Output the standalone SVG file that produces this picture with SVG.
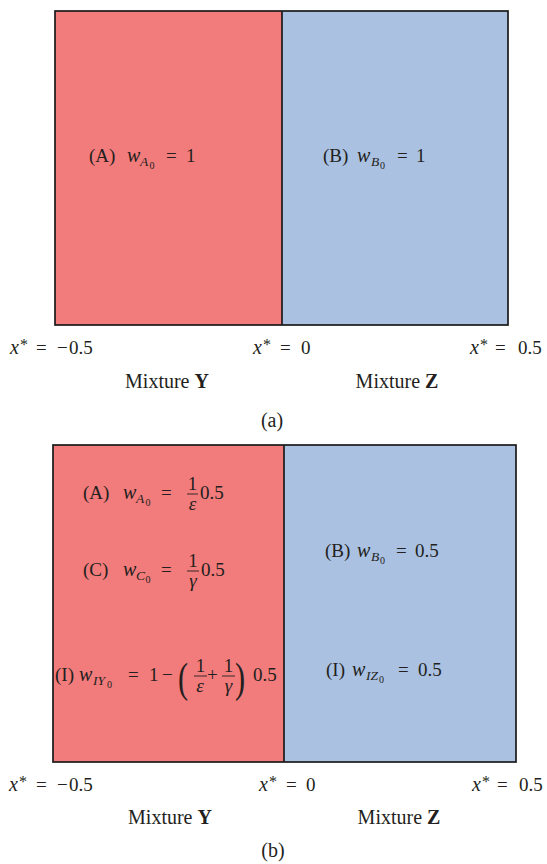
<svg xmlns="http://www.w3.org/2000/svg" width="547" height="864" viewBox="0 0 547 864">
<style>
text{font-family:"Liberation Serif","Times New Roman",serif;font-size:19px;fill:#231f20}
.i{font-style:italic}
.w{font-style:italic;font-size:20px}
.b{font-weight:bold}
.s{font-size:13.5px}
.ss{font-size:10px}
.st{font-size:16px}
.lab{font-size:20px}
.m{text-anchor:middle}
.red{fill:#f27b7b}
.blue{fill:#aac1e2}
.frame{fill:none;stroke:#1a1a1a;stroke-width:1.7}
.div{stroke:#1a1a1a;stroke-width:1.7}
.bar{stroke:#231f20;stroke-width:0.9}
</style>
<g id="panel-a">
  <rect class="red" x="55" y="11" width="227" height="314"/>
  <rect class="blue" x="282" y="11" width="226" height="314"/>
  <rect class="frame" x="55" y="11" width="453" height="314"/>
  <line class="div" x1="282" y1="11" x2="282" y2="325"/>
  <g id="a-A">
    <text x="89" y="162">(A)</text>
    <text class="w" x="127" y="162">w</text>
    <text class="i s" x="140" y="166">A</text>
    <text class="ss" x="149.5" y="169">0</text>
    <text x="166" y="162">=</text>
    <text x="186" y="162">1</text>
  </g>
  <g id="a-B">
    <text x="323" y="162">(B)</text>
    <text class="w" x="357" y="162">w</text>
    <text class="i s" x="371" y="166">B</text>
    <text class="ss" x="380" y="169">0</text>
    <text x="397" y="162">=</text>
    <text x="416" y="162">1</text>
  </g>
  <g id="a-labels">
    <text class="i lab" x="10" y="354">x</text><text class="st" x="20" y="350">*</text>
    <text x="36" y="354">=</text><text x="57" y="354">−</text><text x="69" y="354">0.5</text>
    <text class="i lab" x="253" y="354">x</text><text class="st" x="263" y="350">*</text>
    <text x="280" y="354">=</text><text x="301" y="354">0</text>
    <text class="i lab" x="470" y="354">x</text><text class="st" x="480" y="350">*</text>
    <text x="495" y="354">=</text><text x="518" y="354">0.5</text>
    <text class="m lab" x="167" y="388">Mixture <tspan class="b">Y</tspan></text>
    <text class="m lab" x="397" y="388">Mixture <tspan class="b">Z</tspan></text>
    <text class="m lab" x="272" y="427">(a)</text>
  </g>
</g>
<g id="panel-b">
  <rect class="red" x="53" y="445" width="231" height="317"/>
  <rect class="blue" x="284" y="445" width="232" height="317"/>
  <rect class="frame" x="53" y="445" width="463" height="317"/>
  <line class="div" x1="284" y1="445" x2="284" y2="762"/>
  <g id="b-A">
    <text x="83" y="499">(A)</text>
    <text class="w" x="123" y="499">w</text>
    <text class="i s" x="136" y="503">A</text>
    <text class="ss" x="145.5" y="506">0</text>
    <text x="161" y="499">=</text>
    <text class="m" x="192.5" y="490">1</text>
    <line class="bar" x1="187" y1="494" x2="198" y2="494"/>
    <text class="i m" x="192.5" y="510">ε</text>
    <text x="200" y="499">0.5</text>
  </g>
  <g id="b-C">
    <text x="83" y="576">(C)</text>
    <text class="w" x="123" y="576">w</text>
    <text class="i s" x="136" y="580">C</text>
    <text class="ss" x="145.5" y="583">0</text>
    <text x="161" y="576">=</text>
    <text class="m" x="193" y="567">1</text>
    <line class="bar" x1="187" y1="571" x2="199" y2="571"/>
    <text class="i m" x="193" y="587">γ</text>
    <text x="201" y="576">0.5</text>
  </g>
  <g id="b-IY">
    <text x="55" y="681">(I)</text>
    <text class="w" x="79" y="681">w</text>
    <text class="i s" x="93" y="685">IY</text>
    <text class="ss" x="107" y="688">0</text>
    <text x="128" y="681">=</text>
    <text x="149" y="681">1</text>
    <text x="162" y="681">−</text>
    <text transform="translate(178,692) scale(0.72,1)" style="font-size:42px">(</text>
    <text class="m" x="200.5" y="672">1</text>
    <line class="bar" x1="194" y1="676" x2="207" y2="676"/>
    <text class="i m" x="200" y="692">ε</text>
    <text x="207" y="681">+</text>
    <text class="m" x="228.5" y="672">1</text>
    <line class="bar" x1="222" y1="676" x2="235" y2="676"/>
    <text class="i m" x="228.5" y="692">γ</text>
    <text transform="translate(235,692) scale(0.72,1)" style="font-size:42px">)</text>
    <text x="253" y="681">0.5</text>
  </g>
  <g id="b-B">
    <text x="325" y="557">(B)</text>
    <text class="w" x="357" y="557">w</text>
    <text class="i s" x="371" y="561">B</text>
    <text class="ss" x="380" y="564">0</text>
    <text x="396" y="557">=</text>
    <text x="415" y="557">0.5</text>
  </g>
  <g id="b-IZ">
    <text x="326" y="676">(I)</text>
    <text class="w" x="352" y="676">w</text>
    <text class="i s" x="366" y="680">IZ</text>
    <text class="ss" x="379" y="683">0</text>
    <text x="398" y="676">=</text>
    <text x="418" y="676">0.5</text>
  </g>
  <g id="b-labels">
    <text class="i lab" x="9" y="791">x</text><text class="st" x="19" y="787">*</text>
    <text x="36" y="791">=</text><text x="57" y="791">−</text><text x="69" y="791">0.5</text>
    <text class="i lab" x="259" y="791">x</text><text class="st" x="269" y="787">*</text>
    <text x="286" y="791">=</text><text x="306" y="791">0</text>
    <text class="i lab" x="472" y="791">x</text><text class="st" x="482" y="787">*</text>
    <text x="497" y="791">=</text><text x="519" y="791">0.5</text>
    <text class="m lab" x="170" y="824">Mixture <tspan class="b">Y</tspan></text>
    <text class="m lab" x="399" y="824">Mixture <tspan class="b">Z</tspan></text>
    <text class="m lab" x="273" y="857">(b)</text>
  </g>
</g>
</svg>
